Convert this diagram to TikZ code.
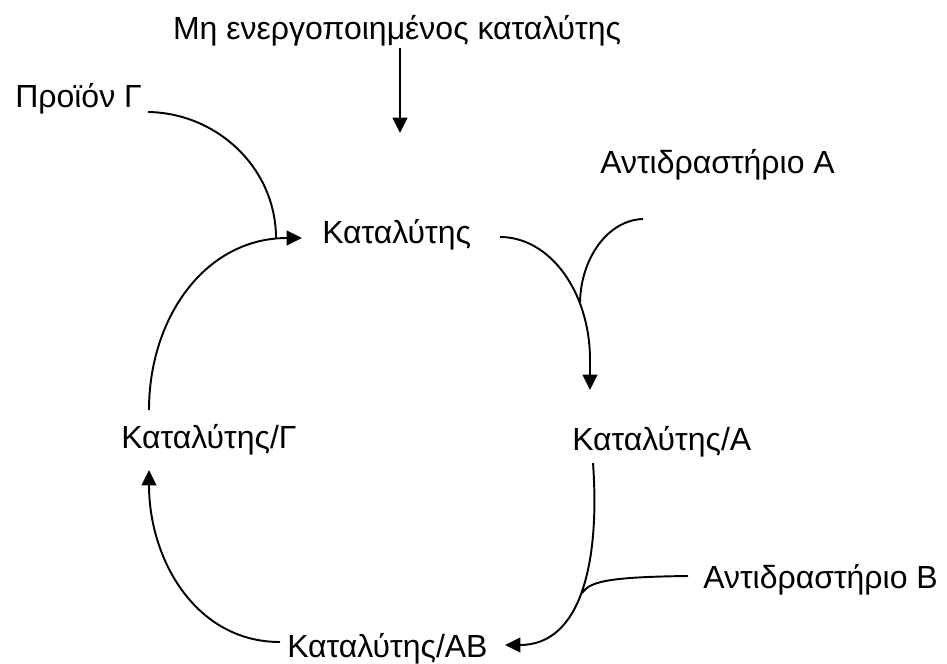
\documentclass[tikz,border=0pt]{standalone}
\usepackage{fontspec}
\setmainfont{Liberation Sans}
\usetikzlibrary{arrows.meta}
\begin{document}
\begin{tikzpicture}[x=0.75pt,y=-0.75pt,
  lbl/.style={inner sep=0pt,anchor=base west,font=\fontsize{24}{29}\selectfont},
  conn/.style={line width=1.45pt},
  arr/.style={conn,-{Triangle[length=11.5pt,width=11pt]}}]
\useasboundingbox (0,0) rectangle (947,664);
% text nodes
\node[lbl,anchor=base] (title) at (397,39) {Μη ενεργοποιημένος καταλύτης};
\node[lbl] (prod) at (15,107) {Προϊόν Γ};
\node[lbl] (cat) at (322,243) {Καταλύτης};
\node[lbl] (reA) at (600,173) {Αντιδραστήριο Α};
\node[lbl] (catA) at (572,450) {Καταλύτης/Α};
\node[lbl] (catG) at (121,448) {Καταλύτης/Γ};
\node[lbl] (reB) at (703,588) {Αντιδραστήριο Β};
\node[lbl] (catAB) at (287,657) {Καταλύτης/ΑΒ};
% connector end points
\coordinate (t1) at (400,48);
\coordinate (t2) at (400,133);
\coordinate (p1) at (148,112);
\coordinate (p2) at (276,238);
\coordinate (g1) at (149,410);
\coordinate (c1) at (302,238);
\coordinate (c2) at (500,237);
\coordinate (a1) at (590,360);
\coordinate (a2) at (590,390);
\coordinate (ra1) at (643,219);
\coordinate (ra2) at (580,302);
\coordinate (ca1) at (593,463);
\coordinate (ab1) at (505,645);
\coordinate (rb1) at (688,576);
\coordinate (rb2) at (582,593);
\coordinate (ab2) at (280,642);
\coordinate (g2) at (149,470);
% connectors
\draw[arr] (t1) -- (t2);
\draw[conn] (p1) .. controls (218,113) and (276,169) .. (p2);
\draw[arr] (g1) .. controls (149,318) and (205,238) .. (c1);
\draw[arr] (c2) .. controls (550,237) and (590,292) .. (a1) -- (a2);
\draw[conn] (ra1) .. controls (608,220) and (581,258) .. (ra2);
\draw[arr] (ca1) .. controls (600,560) and (582,645) .. (ab1);
\draw[conn] (rb1) .. controls (605,577) and (590,582) .. (rb2);
\draw[arr] (ab2) .. controls (196,642) and (149,560) .. (g2);
\end{tikzpicture}
\end{document}
